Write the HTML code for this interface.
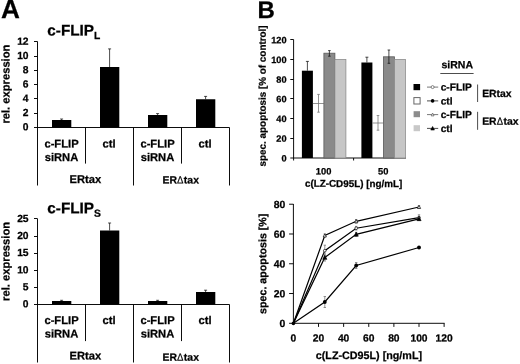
<!DOCTYPE html>
<html><head><meta charset="utf-8"><title>Figure</title>
<style>
html,body{margin:0;padding:0;background:#fff;}
svg{display:block;}
text{font-family:"Liberation Sans",Arial,sans-serif;font-weight:bold;fill:#000;stroke:#000;stroke-width:0.25px;}
.ax{stroke:#000;stroke-width:0.95;fill:none;}
.eb{stroke:#111;stroke-width:0.75;fill:none;}
.ebd{stroke:#555;stroke-width:0.8;fill:none;}
.ebg{stroke:#777;stroke-width:0.8;fill:none;}
.ln{stroke:#000;stroke-width:1.2;fill:none;}
</style></head><body>
<svg width="520" height="364" viewBox="0 0 520 364">
<rect x="0" y="0" width="520" height="364" fill="#fff"/>
<text x="0.9" y="18" font-size="26.2" text-anchor="start" transform="rotate(0.04 0.9 18)">A</text>
<text transform="translate(257.4 17.9) rotate(0.04) scale(1 1)" font-size="24">B</text>
<text x="47.3" y="35.5" font-size="15.3" transform="rotate(0.04 47.3 35.5)">c-FLIP<tspan font-size="10.3" dy="3.5">L</tspan></text>
<line class="ax" x1="37.5" y1="41.5" x2="37.5" y2="185.5"/>
<line class="ax" x1="34" y1="127.5" x2="37.5" y2="127.5"/>
<text x="28.6" y="130.3" font-size="10.3" text-anchor="end" transform="rotate(0.04 28.6 130.3)">0</text>
<line class="ax" x1="34" y1="113.5" x2="37.5" y2="113.5"/>
<text x="28.6" y="116.05" font-size="10.3" text-anchor="end" transform="rotate(0.04 28.6 116.05)">2</text>
<line class="ax" x1="34" y1="98.5" x2="37.5" y2="98.5"/>
<text x="28.6" y="101.8" font-size="10.3" text-anchor="end" transform="rotate(0.04 28.6 101.8)">4</text>
<line class="ax" x1="34" y1="84.5" x2="37.5" y2="84.5"/>
<text x="28.6" y="87.55" font-size="10.3" text-anchor="end" transform="rotate(0.04 28.6 87.55)">6</text>
<line class="ax" x1="34" y1="70.5" x2="37.5" y2="70.5"/>
<text x="28.6" y="73.3" font-size="10.3" text-anchor="end" transform="rotate(0.04 28.6 73.3)">8</text>
<line class="ax" x1="34" y1="56.5" x2="37.5" y2="56.5"/>
<text x="28.6" y="59.05" font-size="10.3" text-anchor="end" transform="rotate(0.04 28.6 59.05)">10</text>
<line class="ax" x1="34" y1="41.5" x2="37.5" y2="41.5"/>
<text x="28.6" y="44.8" font-size="10.3" text-anchor="end" transform="rotate(0.04 28.6 44.8)">12</text>
<line class="ax" x1="37" y1="127.5" x2="229.5" y2="127.5"/>
<line class="ax" x1="85.5" y1="127.5" x2="85.5" y2="163.6"/>
<line class="ax" x1="181.5" y1="127.5" x2="181.5" y2="163.6"/>
<line class="ax" x1="133.5" y1="127.5" x2="133.5" y2="185.5"/>
<line class="ax" x1="229.5" y1="127.5" x2="229.5" y2="185.5"/>
<text transform="translate(9.4 84.1) rotate(-90.04)" font-size="11.2" text-anchor="middle">rel. expression</text>
<rect x="52" y="120" width="19.3" height="7.5" fill="#000"/>
<line class="eb" x1="61.6" y1="119" x2="61.6" y2="120"/>
<line class="eb" x1="60.1" y1="119" x2="63.1" y2="119"/>
<rect x="100" y="67" width="19.3" height="60.5" fill="#000"/>
<line class="eb" x1="109.6" y1="48.9" x2="109.6" y2="67"/>
<line class="eb" x1="108.1" y1="48.9" x2="111.1" y2="48.9"/>
<rect x="148" y="115" width="19.3" height="12.5" fill="#000"/>
<line class="eb" x1="157.6" y1="113.6" x2="157.6" y2="115"/>
<line class="eb" x1="156.1" y1="113.6" x2="159.1" y2="113.6"/>
<rect x="196" y="99.25" width="19.3" height="28.25" fill="#000"/>
<line class="eb" x1="205.6" y1="96.4" x2="205.6" y2="99.25"/>
<line class="eb" x1="204.1" y1="96.4" x2="207.1" y2="96.4"/>
<text x="61.5" y="147.6" font-size="11.2" text-anchor="middle" transform="rotate(0.04 61.5 147.6)">c-FLIP</text>
<text x="61.5" y="161" font-size="11.2" text-anchor="middle" transform="rotate(0.04 61.5 161)">siRNA</text>
<text x="109" y="147.6" font-size="11.2" text-anchor="middle" transform="rotate(0.04 109 147.6)">ctl</text>
<text x="157.5" y="147.6" font-size="11.2" text-anchor="middle" transform="rotate(0.04 157.5 147.6)">c-FLIP</text>
<text x="157.5" y="161" font-size="11.2" text-anchor="middle" transform="rotate(0.04 157.5 161)">siRNA</text>
<text x="205" y="147.6" font-size="11.2" text-anchor="middle" transform="rotate(0.04 205 147.6)">ctl</text>
<text x="85.3" y="182.9" font-size="11.2" text-anchor="middle" transform="rotate(0.04 85.3 182.9)">ERtax</text>
<text x="162.43" y="183.6" font-size="10.45" text-anchor="start" transform="rotate(0.04 162.43 183.6)">ER</text>
<text transform="translate(176.95 183.6) rotate(0.04) scale(0.92 1)" font-size="10.45" style="font-weight:normal;stroke-width:0.2px">Δ</text>
<text x="183.86" y="183.6" font-size="10.45" text-anchor="start" transform="rotate(0.04 183.86 183.6)">tax</text>
<text x="47.3" y="213.3" font-size="15.3" transform="rotate(0.04 47.3 213.3)">c-FLIP<tspan font-size="10.3" dy="3.5">S</tspan></text>
<line class="ax" x1="37.5" y1="218.7" x2="37.5" y2="362.5"/>
<line class="ax" x1="34" y1="304.5" x2="37.5" y2="304.5"/>
<text x="28.6" y="307.3" font-size="10.3" text-anchor="end" transform="rotate(0.04 28.6 307.3)">0</text>
<line class="ax" x1="34" y1="287.5" x2="37.5" y2="287.5"/>
<text x="28.6" y="290.24" font-size="10.3" text-anchor="end" transform="rotate(0.04 28.6 290.24)">5</text>
<line class="ax" x1="34" y1="270.5" x2="37.5" y2="270.5"/>
<text x="28.6" y="273.18" font-size="10.3" text-anchor="end" transform="rotate(0.04 28.6 273.18)">10</text>
<line class="ax" x1="34" y1="253.5" x2="37.5" y2="253.5"/>
<text x="28.6" y="256.12" font-size="10.3" text-anchor="end" transform="rotate(0.04 28.6 256.12)">15</text>
<line class="ax" x1="34" y1="236.5" x2="37.5" y2="236.5"/>
<text x="28.6" y="239.06" font-size="10.3" text-anchor="end" transform="rotate(0.04 28.6 239.06)">20</text>
<line class="ax" x1="34" y1="218.5" x2="37.5" y2="218.5"/>
<text x="28.6" y="222" font-size="10.3" text-anchor="end" transform="rotate(0.04 28.6 222)">25</text>
<line class="ax" x1="37" y1="304.5" x2="229.5" y2="304.5"/>
<line class="ax" x1="85.5" y1="304.5" x2="85.5" y2="341.1"/>
<line class="ax" x1="181.5" y1="304.5" x2="181.5" y2="341.1"/>
<line class="ax" x1="133.5" y1="304.5" x2="133.5" y2="362.5"/>
<line class="ax" x1="229.5" y1="304.5" x2="229.5" y2="362.5"/>
<text transform="translate(9.4 261.4) rotate(-90.04)" font-size="11.2" text-anchor="middle">rel. expression</text>
<rect x="52" y="301" width="19.3" height="3.5" fill="#000"/>
<line class="eb" x1="61.6" y1="300.3" x2="61.6" y2="301"/>
<line class="eb" x1="60.1" y1="300.3" x2="63.1" y2="300.3"/>
<rect x="100" y="230.5" width="19.3" height="74" fill="#000"/>
<line class="eb" x1="109.6" y1="223" x2="109.6" y2="230.5"/>
<line class="eb" x1="108.1" y1="223" x2="111.1" y2="223"/>
<rect x="148" y="301" width="19.3" height="3.5" fill="#000"/>
<line class="eb" x1="157.6" y1="300.3" x2="157.6" y2="301"/>
<line class="eb" x1="156.1" y1="300.3" x2="159.1" y2="300.3"/>
<rect x="196" y="292" width="19.3" height="12.5" fill="#000"/>
<line class="eb" x1="205.6" y1="290.2" x2="205.6" y2="292"/>
<line class="eb" x1="204.1" y1="290.2" x2="207.1" y2="290.2"/>
<text x="61.5" y="324.1" font-size="11.2" text-anchor="middle" transform="rotate(0.04 61.5 324.1)">c-FLIP</text>
<text x="61.5" y="337.6" font-size="11.2" text-anchor="middle" transform="rotate(0.04 61.5 337.6)">siRNA</text>
<text x="109" y="324.1" font-size="11.2" text-anchor="middle" transform="rotate(0.04 109 324.1)">ctl</text>
<text x="157.5" y="324.1" font-size="11.2" text-anchor="middle" transform="rotate(0.04 157.5 324.1)">c-FLIP</text>
<text x="157.5" y="337.6" font-size="11.2" text-anchor="middle" transform="rotate(0.04 157.5 337.6)">siRNA</text>
<text x="205" y="324.1" font-size="11.2" text-anchor="middle" transform="rotate(0.04 205 324.1)">ctl</text>
<text x="85.3" y="359.6" font-size="11.2" text-anchor="middle" transform="rotate(0.04 85.3 359.6)">ERtax</text>
<text x="162.43" y="360.8" font-size="10.45" text-anchor="start" transform="rotate(0.04 162.43 360.8)">ER</text>
<text transform="translate(176.95 360.8) rotate(0.04) scale(0.92 1)" font-size="10.45" style="font-weight:normal;stroke-width:0.2px">Δ</text>
<text x="183.86" y="360.8" font-size="10.45" text-anchor="start" transform="rotate(0.04 183.86 360.8)">tax</text>
<line class="ax" x1="293.6" y1="39.5" x2="293.6" y2="160.5"/>
<line class="ax" x1="290.3" y1="158" x2="406" y2="158"/>
<text x="286.5" y="161.4" font-size="9.2" text-anchor="end" transform="rotate(0.04 286.5 161.4)">0</text>
<line class="ax" x1="290.3" y1="138.5" x2="293.6" y2="138.5"/>
<text x="286.5" y="141.73" font-size="9.2" text-anchor="end" transform="rotate(0.04 286.5 141.73)">20</text>
<line class="ax" x1="290.3" y1="118.5" x2="293.6" y2="118.5"/>
<text x="286.5" y="122.06" font-size="9.2" text-anchor="end" transform="rotate(0.04 286.5 122.06)">40</text>
<line class="ax" x1="290.3" y1="98.5" x2="293.6" y2="98.5"/>
<text x="286.5" y="102.39" font-size="9.2" text-anchor="end" transform="rotate(0.04 286.5 102.39)">60</text>
<line class="ax" x1="290.3" y1="79.5" x2="293.6" y2="79.5"/>
<text x="286.5" y="82.72" font-size="9.2" text-anchor="end" transform="rotate(0.04 286.5 82.72)">80</text>
<line class="ax" x1="290.3" y1="59.5" x2="293.6" y2="59.5"/>
<text x="286.5" y="63.05" font-size="9.2" text-anchor="end" transform="rotate(0.04 286.5 63.05)">100</text>
<line class="ax" x1="290.3" y1="39.5" x2="293.6" y2="39.5"/>
<text x="286.5" y="43.38" font-size="9.2" text-anchor="end" transform="rotate(0.04 286.5 43.38)">120</text>
<line class="ax" x1="353.6" y1="158" x2="353.6" y2="160.5"/>
<text transform="translate(265.8 95.9) rotate(-90.04)" font-size="9.88" text-anchor="middle">spec. apoptosis [% of control]</text>
<rect x="301.9" y="70.7" width="11" height="87.3" fill="#000"/>
<line class="eb" x1="307.4" y1="61.4" x2="307.4" y2="70.7"/>
<line class="eb" x1="305.9" y1="61.4" x2="308.9" y2="61.4"/>
<line class="ebg" x1="312.9" y1="103.5" x2="323.9" y2="103.5"/>
<line class="ebg" x1="318.5" y1="94.4" x2="318.5" y2="112.2"/>
<line class="ebg" x1="317.2" y1="94.4" x2="319.8" y2="94.4"/>
<line class="ebg" x1="317.2" y1="112.2" x2="319.8" y2="112.2"/>
<rect x="323.9" y="53.2" width="11" height="104.8" fill="#8a8a8a" stroke="#5a5a5a" stroke-width="0.8"/>
<line class="eb" x1="329.4" y1="50.6" x2="329.4" y2="56.2"/>
<line class="eb" x1="328.1" y1="50.6" x2="330.7" y2="50.6"/>
<line class="eb" x1="328.1" y1="56.2" x2="330.7" y2="56.2"/>
<rect x="334.9" y="59.5" width="11" height="98.5" fill="#c6c6c6" stroke="#8c8c8c" stroke-width="0.8"/>
<rect x="361.4" y="62.5" width="11" height="95.5" fill="#000"/>
<line class="eb" x1="366.9" y1="57.2" x2="366.9" y2="62.5"/>
<line class="eb" x1="365.4" y1="57.2" x2="368.4" y2="57.2"/>
<line class="ebg" x1="372.4" y1="123" x2="383.4" y2="123"/>
<line class="ebg" x1="378" y1="115.5" x2="378" y2="130.2"/>
<line class="ebg" x1="376.7" y1="115.5" x2="379.3" y2="115.5"/>
<line class="ebg" x1="376.7" y1="130.2" x2="379.3" y2="130.2"/>
<rect x="383.4" y="56.8" width="11" height="101.2" fill="#8a8a8a" stroke="#5a5a5a" stroke-width="0.8"/>
<line class="eb" x1="388.9" y1="50" x2="388.9" y2="63.3"/>
<line class="eb" x1="387.6" y1="50" x2="390.2" y2="50"/>
<line class="eb" x1="387.6" y1="63.3" x2="390.2" y2="63.3"/>
<rect x="394.4" y="59.5" width="11" height="98.5" fill="#c6c6c6" stroke="#8c8c8c" stroke-width="0.8"/>
<text x="323.6" y="174.4" font-size="9.3" text-anchor="middle" transform="rotate(0.04 323.6 174.4)">100</text>
<text x="383.2" y="174.4" font-size="9.3" text-anchor="middle" transform="rotate(0.04 383.2 174.4)">50</text>
<text x="353.6" y="186.9" font-size="9.85" text-anchor="middle" transform="rotate(0.04 353.6 186.9)">c(LZ-CD95L) [ng/mL]</text>
<text x="441.5" y="68.3" font-size="10.5" text-anchor="start" transform="rotate(0.04 441.5 68.3)">siRNA</text>
<line class="eb" x1="440.3" y1="73.5" x2="473.6" y2="73.5"/>
<rect x="413.5" y="84" width="6.6" height="6.2" fill="#000"/>
<rect x="413.9" y="97.6" width="6.2" height="6.4" fill="#fff" stroke="#666" stroke-width="1"/>
<rect x="413.6" y="111.2" width="6.4" height="6" fill="#8c8c8c"/>
<rect x="413.6" y="125.2" width="6.4" height="6" fill="#c8c8c8"/>
<line class="ebd" x1="427" y1="87.1" x2="438.2" y2="87.1"/>
<circle cx="432.6" cy="87.1" r="1.5" fill="#fff" stroke="#555" stroke-width="0.7"/>
<text x="440.7" y="90.6" font-size="10.2" text-anchor="start" transform="rotate(0.04 440.7 90.6)">c-FLIP</text>
<line class="eb" x1="427" y1="100.9" x2="438.2" y2="100.9"/>
<circle cx="432.6" cy="100.9" r="1.8" fill="#000"/>
<text x="440.7" y="104.4" font-size="10.2" text-anchor="start" transform="rotate(0.04 440.7 104.4)">ctl</text>
<line class="ebd" x1="427" y1="114.6" x2="438.2" y2="114.6"/>
<path d="M432.6 113.05 L434.02 115.89 L431.18 115.89 Z" fill="#fff" stroke="#555" stroke-width="0.7"/>
<text x="440.7" y="118.1" font-size="10.2" text-anchor="start" transform="rotate(0.04 440.7 118.1)">c-FLIP</text>
<line class="eb" x1="427" y1="128.4" x2="438.2" y2="128.4"/>
<path d="M432.6 126.49 L434.44 130.01 L430.76 130.01 Z" fill="#000" stroke="#000" stroke-width="0.6"/>
<text x="440.7" y="131.9" font-size="10.2" text-anchor="start" transform="rotate(0.04 440.7 131.9)">ctl</text>
<line class="eb" x1="477.6" y1="84.5" x2="477.6" y2="102"/>
<line class="eb" x1="477.6" y1="111.8" x2="477.6" y2="129.8"/>
<text x="482.2" y="97" font-size="10.4" text-anchor="start" transform="rotate(0.04 482.2 97)">ERtax</text>
<text x="482.2" y="124.7" font-size="10.4" text-anchor="start" transform="rotate(0.04 482.2 124.7)">ER</text>
<text transform="translate(496.65 124.7) rotate(0.04) scale(0.92 1)" font-size="10.4" style="font-weight:normal;stroke-width:0.2px">Δ</text>
<text x="503.52" y="124.7" font-size="10.4" text-anchor="start" transform="rotate(0.04 503.52 124.7)">tax</text>
<line class="ax" x1="293.4" y1="204" x2="293.4" y2="323.8"/>
<line class="ax" x1="289.1" y1="323.3" x2="444.6" y2="323.3"/>
<line class="ax" x1="289.1" y1="293.53" x2="293.4" y2="293.53"/>
<line class="ax" x1="289.1" y1="263.76" x2="293.4" y2="263.76"/>
<line class="ax" x1="289.1" y1="233.99" x2="293.4" y2="233.99"/>
<line class="ax" x1="289.1" y1="204.22" x2="293.4" y2="204.22"/>
<text x="285.3" y="327" font-size="10.4" text-anchor="end" transform="rotate(0.04 285.3 327)">0</text>
<text x="285.3" y="297.23" font-size="10.4" text-anchor="end" transform="rotate(0.04 285.3 297.23)">20</text>
<text x="285.3" y="267.46" font-size="10.4" text-anchor="end" transform="rotate(0.04 285.3 267.46)">40</text>
<text x="285.3" y="237.69" font-size="10.4" text-anchor="end" transform="rotate(0.04 285.3 237.69)">60</text>
<text x="285.3" y="207.92" font-size="10.4" text-anchor="end" transform="rotate(0.04 285.3 207.92)">80</text>
<line class="ax" x1="318.52" y1="323.3" x2="318.52" y2="326.9"/>
<line class="ax" x1="343.64" y1="323.3" x2="343.64" y2="326.9"/>
<line class="ax" x1="368.76" y1="323.3" x2="368.76" y2="326.9"/>
<line class="ax" x1="393.88" y1="323.3" x2="393.88" y2="326.9"/>
<line class="ax" x1="419" y1="323.3" x2="419" y2="326.9"/>
<line class="ax" x1="444.12" y1="323.3" x2="444.12" y2="326.9"/>
<text x="293.4" y="341.6" font-size="10.3" text-anchor="middle" transform="rotate(0.04 293.4 341.6)">0</text>
<text x="318.52" y="341.6" font-size="10.3" text-anchor="middle" transform="rotate(0.04 318.52 341.6)">20</text>
<text x="343.64" y="341.6" font-size="10.3" text-anchor="middle" transform="rotate(0.04 343.64 341.6)">40</text>
<text x="368.76" y="341.6" font-size="10.3" text-anchor="middle" transform="rotate(0.04 368.76 341.6)">60</text>
<text x="393.88" y="341.6" font-size="10.3" text-anchor="middle" transform="rotate(0.04 393.88 341.6)">80</text>
<text x="419" y="341.6" font-size="10.3" text-anchor="middle" transform="rotate(0.04 419 341.6)">100</text>
<text x="444.12" y="341.6" font-size="10.3" text-anchor="middle" transform="rotate(0.04 444.12 341.6)">120</text>
<text x="368.9" y="359" font-size="10.75" text-anchor="middle" transform="rotate(0.04 368.9 359)">c(LZ-CD95L) [ng/mL]</text>
<text transform="translate(266.3 263.75) rotate(-90.04)" font-size="10.7" text-anchor="middle">spec. apoptosis [%]</text>
<polyline class="ln" points="293.4,323.3 324.8,235.5 356.2,221.3 419,207"/>
<polyline class="ln" points="293.4,323.3 324.8,250.7 356.2,228.2 419,217.6"/>
<polyline class="ln" points="293.4,323.3 324.8,257.5 356.2,234.3 419,218.8"/>
<polyline class="ln" points="293.4,323.3 324.8,302 356.2,265.5 419,247.5"/>
<line class="ebg" x1="324.8" y1="234" x2="324.8" y2="237"/>
<line class="ebg" x1="323.6" y1="234" x2="326" y2="234"/>
<line class="ebg" x1="323.6" y1="237" x2="326" y2="237"/>
<line class="ebg" x1="356.2" y1="219.5" x2="356.2" y2="223.1"/>
<line class="ebg" x1="355" y1="219.5" x2="357.4" y2="219.5"/>
<line class="ebg" x1="355" y1="223.1" x2="357.4" y2="223.1"/>
<line class="ebg" x1="419" y1="205.8" x2="419" y2="208.2"/>
<line class="ebg" x1="417.8" y1="205.8" x2="420.2" y2="205.8"/>
<line class="ebg" x1="417.8" y1="208.2" x2="420.2" y2="208.2"/>
<line class="ebg" x1="324.8" y1="245.2" x2="324.8" y2="256.2"/>
<line class="ebg" x1="323.6" y1="245.2" x2="326" y2="245.2"/>
<line class="ebg" x1="323.6" y1="256.2" x2="326" y2="256.2"/>
<line class="ebg" x1="356.2" y1="226.4" x2="356.2" y2="230"/>
<line class="ebg" x1="355" y1="226.4" x2="357.4" y2="226.4"/>
<line class="ebg" x1="355" y1="230" x2="357.4" y2="230"/>
<line class="ebg" x1="419" y1="214.8" x2="419" y2="220.4"/>
<line class="ebg" x1="417.8" y1="214.8" x2="420.2" y2="214.8"/>
<line class="ebg" x1="417.8" y1="220.4" x2="420.2" y2="220.4"/>
<line class="ebg" x1="324.8" y1="254" x2="324.8" y2="261"/>
<line class="ebg" x1="323.6" y1="254" x2="326" y2="254"/>
<line class="ebg" x1="323.6" y1="261" x2="326" y2="261"/>
<line class="ebg" x1="356.2" y1="232.3" x2="356.2" y2="236.3"/>
<line class="ebg" x1="355" y1="232.3" x2="357.4" y2="232.3"/>
<line class="ebg" x1="355" y1="236.3" x2="357.4" y2="236.3"/>
<line class="ebg" x1="419" y1="217.3" x2="419" y2="220.3"/>
<line class="ebg" x1="417.8" y1="217.3" x2="420.2" y2="217.3"/>
<line class="ebg" x1="417.8" y1="220.3" x2="420.2" y2="220.3"/>
<line class="ebg" x1="324.8" y1="296.5" x2="324.8" y2="307.5"/>
<line class="ebg" x1="323.6" y1="296.5" x2="326" y2="296.5"/>
<line class="ebg" x1="323.6" y1="307.5" x2="326" y2="307.5"/>
<line class="ebg" x1="356.2" y1="262.5" x2="356.2" y2="268.5"/>
<line class="ebg" x1="355" y1="262.5" x2="357.4" y2="262.5"/>
<line class="ebg" x1="355" y1="268.5" x2="357.4" y2="268.5"/>
<line class="ebg" x1="419" y1="246.5" x2="419" y2="248.5"/>
<line class="ebg" x1="417.8" y1="246.5" x2="420.2" y2="246.5"/>
<line class="ebg" x1="417.8" y1="248.5" x2="420.2" y2="248.5"/>
<path d="M324.8 233.74 L326.42 236.97 L323.18 236.97 Z" fill="#fff" stroke="#000" stroke-width="0.7"/>
<path d="M356.2 219.54 L357.82 222.77 L354.58 222.77 Z" fill="#fff" stroke="#000" stroke-width="0.7"/>
<path d="M419 205.24 L420.62 208.47 L417.38 208.47 Z" fill="#fff" stroke="#000" stroke-width="0.7"/>
<circle cx="324.8" cy="250.7" r="1.35" fill="#fff" stroke="#000" stroke-width="0.7"/>
<circle cx="356.2" cy="228.2" r="1.35" fill="#fff" stroke="#000" stroke-width="0.7"/>
<circle cx="419" cy="217.6" r="1.35" fill="#fff" stroke="#000" stroke-width="0.7"/>
<path d="M324.8 255.29 L326.92 259.35 L322.68 259.35 Z" fill="#000" stroke="#000" stroke-width="0.6"/>
<path d="M356.2 232.09 L358.32 236.15 L354.08 236.15 Z" fill="#000" stroke="#000" stroke-width="0.6"/>
<path d="M419 216.59 L421.12 220.65 L416.88 220.65 Z" fill="#000" stroke="#000" stroke-width="0.6"/>
<circle cx="324.8" cy="302" r="1.9" fill="#000"/>
<circle cx="356.2" cy="265.5" r="1.9" fill="#000"/>
<circle cx="419" cy="247.5" r="1.9" fill="#000"/>
<circle cx="293.4" cy="323.4" r="1.8" fill="#000"/>
</svg>
</body></html>
